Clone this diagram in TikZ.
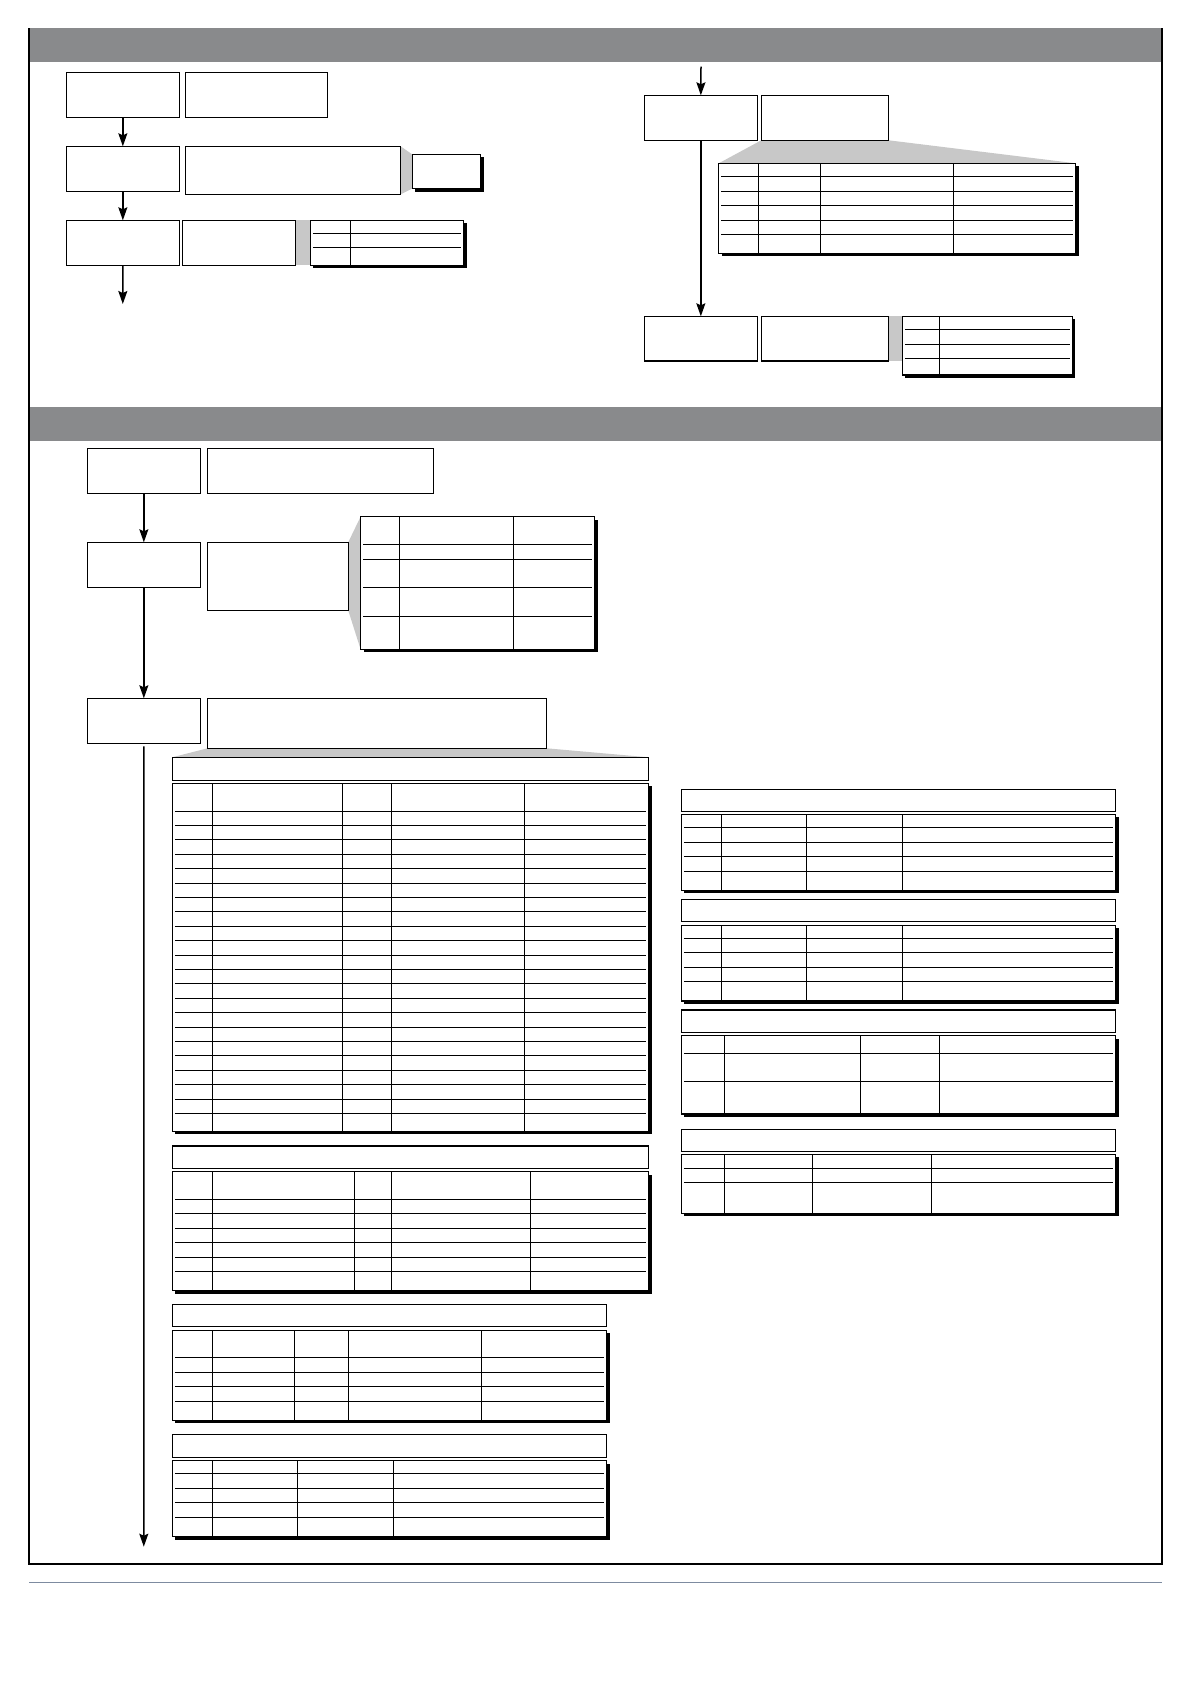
\documentclass[tikz,border=0pt]{standalone}
\usetikzlibrary{arrows.meta,backgrounds}
\definecolor{bandgray}{HTML}{898A8C}
\definecolor{wedge}{HTML}{C8C8C8}
\definecolor{rulecol}{HTML}{7D8BA0}
\tikzset{
 boxst/.style={draw=black, line width=1.1pt, fill=white, inner sep=0pt, outer sep=0pt, anchor=north west},
 tabst/.style={draw=black, line width=1.2pt, fill=white, inner sep=0pt, outer sep=0pt, anchor=north west},
 rowst/.style={line width=1pt},
 arr/.style={line width=1.5pt, -{Stealth[length=13pt,width=9pt,inset=2pt]}},
 wedgest/.style={fill=wedge}
}
\newcommand\mybox[5]{\node[boxst, minimum width={(#4-#2)*1pt}, minimum height={(#5-#3)*1pt}] (#1) at (#2,#3) {};}
\newcommand\mytab[7]{%
  \fill[black] (#2+3,#3+3) rectangle (#4+3,#5+3);
  \node[tabst, minimum width={(#4-#2)*1pt}, minimum height={(#5-#3)*1pt}] (#1) at (#2,#3) {};
  \foreach \cc in {#6} {\draw[rowst] (\cc,#3) -- (\cc,#5);}
  \foreach \rr in {#7} {\draw[rowst] (#2+2.5,\rr) -- (#4-2.5,\rr);}
}
\begin{document}
\begin{tikzpicture}[x=1pt,y=-1pt]
\useasboundingbox (0,0) rectangle (1191,1684);
% bands, frame, rule
\fill[bandgray] (29.2,28.3) rectangle (1162,61.7);
\fill[bandgray] (29.2,407) rectangle (1162,441);
\draw[line width=1.8pt] (29.2,28.3) -- (29.2,1564.3) -- (1162,1564.3) -- (1162,28.3);
\draw[rulecol, line width=0.8pt] (29,1582.7) -- (1162,1582.7);

% ---------- Section A ----------
\mybox{a1}{66.2}{72.3}{179.5}{117.3}
\mybox{a1d}{185.2}{72.3}{327.6}{117.3}
\mybox{a2}{66.2}{146.3}{179.5}{191.3}
\mybox{a2d}{185.2}{146.3}{400.6}{194.3}
\fill[black] (415.1,157.3) rectangle (483.6,191.7);
\mybox{a2s}{412.1}{154.3}{480.6}{188.7}
\mybox{a3}{66.2}{220.3}{179.5}{265.3}
\mybox{a3d}{182.5}{220.3}{295.8}{265.3}
\mytab{a3t}{310.3}{220.3}{463.8}{265.3}{350.5}{233.3,247.3}
\coordinate (aend) at (122.8,304);
\draw[arr] (a1.south) -- (a2.north);
\draw[arr] (a2.south) -- (a3.north);
\draw[arr] (a3.south) -- (aend);

% ---------- Section B ----------
\coordinate (bstart) at (701,66.7);
\mybox{b1}{644.5}{95.3}{757.2}{140.3}
\mybox{b1d}{761.3}{95.3}{888.7}{140.3}
\mytab{b1t}{718.7}{163.3}{1075.7}{253.3}{758.3,820.5,953.5}{176.3,191.3,205.3,220.3,234.3}
\mybox{b2}{644.5}{316.3}{757.2}{361}
\mybox{b2d}{761.3}{316.3}{888.7}{361}
\mytab{b2t}{902.3}{316.3}{1072.3}{375}{939.2}{329.3,344.3,358.3}
\draw[arr] (bstart) -- (b1.north);
\draw[arr] (b1.south) -- (b2.north);

% ---------- Section C ----------
\mybox{c1}{87.5}{448.3}{200.2}{493.3}
\mybox{c1d}{207.3}{448.3}{433.6}{493.3}
\mybox{c2}{87.5}{542.3}{200.2}{587.3}
\mybox{c2d}{207.3}{542.3}{348.2}{610.3}
\mytab{c2t}{360.6}{516.7}{594.5}{649.3}{399.6,513.6}{544.3,559.3,587.3,616.3}
\mybox{c3}{87.5}{698.3}{200.2}{743.3}
\mybox{c3d}{207.3}{698.3}{546.8}{748.3}
\coordinate (cend) at (143.8,1546.7);
\draw[arr] (c1.south) -- (c2.north);
\draw[arr] (c2.south) -- (c3.north);
\draw[arr] ([yshift=-3pt]c3.south) -- (cend);

% lower left tables
\mybox{h1}{172.3}{757.3}{648.7}{780.3}
\mytab{t1}{172.3}{783.3}{648.7}{1131.3}{212.3,342.3,391.3,524.3}{811.3,825.3,839.3,854.3,868.3,883.3,897.3,911.3,926.3,940.3,955.3,969.3,983.3,998.3,1012.3,1027.3,1041.3,1055.3,1070.3,1084.3,1099.3,1113.3}
\mybox{h2}{172.3}{1146}{648.7}{1168.3}
\mytab{t2}{172.3}{1171.7}{648.7}{1290.7}{212.3,354.3,391.3,530}{1199.3,1213.3,1228.3,1242.3,1257.3,1271.3}
\mybox{h3}{172.3}{1304.3}{606.7}{1326.3}
\mytab{t3}{172.3}{1330.3}{606.7}{1420.3}{212.3,294.3,348.3,481.3}{1357.3,1372.3,1386.3,1401.3}
\mybox{h4}{172.3}{1434.3}{606.7}{1457.3}
\mytab{t4}{172.3}{1460.7}{606.7}{1536.7}{212.3,297.3,393.3}{1473.3,1488.3,1502.3,1517.3}

% lower right tables
\mybox{hd1}{681.3}{789.3}{1115.8}{811.7}
\mytab{td1}{681.3}{814.3}{1115.8}{890.3}{721.3,806.3,902.4}{827.3,842,856.3,871}
\mybox{hd2}{681.3}{899.3}{1115.8}{921.7}
\mytab{td2}{681.3}{925.3}{1115.8}{1001}{721.3,806.3,902.4}{938.3,952.3,967.3,981.3}
\mybox{hd3}{681.3}{1010}{1115.8}{1032.7}
\mytab{td3}{681.3}{1035.7}{1115.8}{1114}{724.3,860.5,939.3}{1053.3,1081.3}
\mybox{hd4}{681.3}{1129.3}{1115.8}{1151.3}
\mytab{td4}{681.3}{1154.3}{1115.8}{1213.3}{724.3,812.4,931.2}{1168.3,1182.3}

% grey wedges behind
\begin{pgfonlayer}{background}
\fill[wedgest] (a2d.north east) -- (a2s.north west) -- (a2s.south west) -- (a2d.south east) -- cycle;
\fill[wedgest] (a3d.north east) -- (a3t.north west) -- (a3t.south west) -- (a3d.south east) -- cycle;
\fill[wedgest] (b1d.south west) -- (b1d.south east) -- (b1t.north east) -- (b1t.north west) -- cycle;
\fill[wedgest] (b2d.north east) -- (b2t.north west) -- (b2t.west |- b2d.south east) -- (b2d.south east) -- cycle;
\fill[wedgest] (c2d.north east) -- (c2t.north west) -- (c2t.south west) -- (c2d.south east) -- cycle;
\fill[wedgest] (c3d.south west) -- (c3d.south east) -- (h1.north east) -- (h1.north west) -- cycle;
\end{pgfonlayer}
\end{tikzpicture}
\end{document}
